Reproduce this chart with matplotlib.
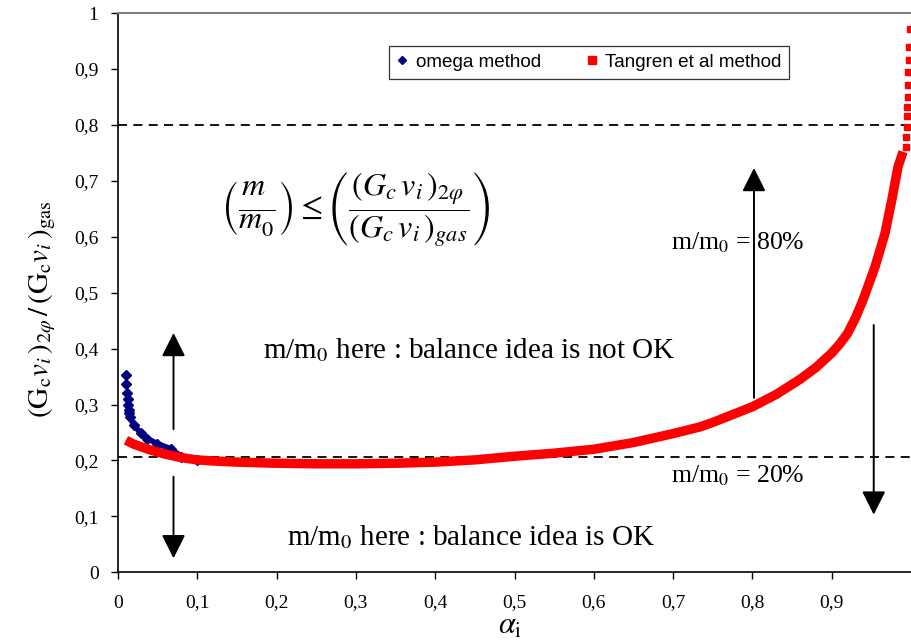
import matplotlib
matplotlib.use("Agg")
import matplotlib.pyplot as plt
from matplotlib.ticker import FuncFormatter
from matplotlib.mathtext import MathTextParser
from matplotlib.font_manager import FontProperties

plt.rcParams['mathtext.fontset'] = 'stix'
plt.rcParams['font.family'] = ['Liberation Serif', 'DejaVu Serif']

# ---- data ----
tangren_alpha = [0.01, 0.02, 0.03, 0.04, 0.05, 0.06, 0.07, 0.08, 0.10, 0.12, 0.15,
                 0.20, 0.25, 0.30, 0.35, 0.40, 0.45, 0.50, 0.55, 0.60, 0.65, 0.70,
                 0.734, 0.75, 0.80, 0.83, 0.86, 0.88, 0.90, 0.91, 0.92, 0.93, 0.9395,
                 0.9546, 0.9672, 0.9757, 0.9836, 0.9900]
tangren_ratio = [0.236, 0.229, 0.224, 0.219, 0.215, 0.211, 0.208, 0.205, 0.201, 0.199, 0.197,
                 0.195, 0.194, 0.194, 0.195, 0.197, 0.201, 0.2075, 0.213, 0.220, 0.232, 0.248,
                 0.260, 0.268, 0.296, 0.318, 0.345, 0.366, 0.392, 0.408, 0.427, 0.455, 0.487,
                 0.546, 0.606, 0.665, 0.725, 0.752]
# sparse points near alpha -> 1 (drawn as separate squares)
tangren_tail_alpha = [0.9933, 0.9941, 0.9946, 0.9949, 0.9953, 0.9958, 0.9962, 0.9966,
                      0.9971, 0.9979, 0.9987]
tangren_tail_ratio = [0.761, 0.779, 0.797, 0.815, 0.832, 0.850, 0.871, 0.895,
                      0.916, 0.940, 0.971]

omega_alpha = [0.0095, 0.0104, 0.0112, 0.0120, 0.0128, 0.0136, 0.0144, 0.0152,
               0.020, 0.0287, 0.037, 0.0496, 0.0665, 0.08, 0.10]
omega_ratio = [0.353, 0.336, 0.321, 0.309, 0.300, 0.291, 0.284, 0.277,
               0.263, 0.249, 0.239, 0.230, 0.221, 0.207, 0.200]

limit_levels = [0.8, 0.207]

xticks = [0, 0.1, 0.2, 0.3, 0.4, 0.5, 0.6, 0.7, 0.8, 0.9]
yticks = [0, 0.1, 0.2, 0.3, 0.4, 0.5, 0.6, 0.7, 0.8, 0.9, 1.0]

# ---- figure ----
fig = plt.figure(figsize=(9.11, 6.43), dpi=100)
ax = fig.add_axes([118/911, (643-572.3)/643, 1 - 118/911, (572.3-13)/643])
ax.set_xlim(0, 1)
ax.set_ylim(0, 1)

# dashed limit lines
for lv in limit_levels:
    ax.axhline(lv, color='black', lw=1.3, ls=(0, (5, 3.5)), zorder=2)

# omega (navy diamonds)
ax.plot(omega_alpha[7:], omega_ratio[7:], color='#000080', lw=4.0, zorder=3,
        solid_capstyle='round')
ax.plot(omega_alpha, omega_ratio, ls='none', marker='D', ms=5,
        color='#000080', mec='#000080', zorder=3)

# Tangren (red squares)
ax.plot(tangren_alpha, tangren_ratio, color='#ff0000', lw=6.8, zorder=4,
        solid_capstyle='butt', solid_joinstyle='round')
ax.plot(tangren_tail_alpha, tangren_tail_ratio, ls='none', marker='s', ms=5.0,
        color='#ff0000', zorder=4)

# legend proxies
h1, = ax.plot([], [], ls='none', marker='D', ms=4, color='#000080', label='omega method')
h2, = ax.plot([], [], ls='none', marker='s', ms=6, color='#ff0000', label='Tangren et al method')
leg = ax.legend(handles=[h1, h2], loc='center', bbox_to_anchor=(0.594, 0.9115),
                ncol=2, frameon=True, fancybox=False, edgecolor='black',
                prop={'family': 'Liberation Sans', 'size': 13.6},
                handlelength=0.6, handletextpad=0.4, columnspacing=2.4,
                borderpad=0.4, borderaxespad=0)
leg.get_frame().set_linewidth(0.9)

# arrows
arrows = [((0.07, 0.256), (0.07, 0.428)),
          ((0.07, 0.171), (0.07, 0.025)),
          ((0.802, 0.312), (0.802, 0.723)),
          ((0.953, 0.442), (0.953, 0.103))]
for start, end in arrows:
    ax.annotate('', xy=end, xytext=start,
                arrowprops=dict(arrowstyle='-|>,head_length=1.0,head_width=0.5',
                                mutation_scale=14.5, lw=1.4, color='black',
                                shrinkA=0, shrinkB=0), zorder=5)

# texts
ax.text(0.443, 0.397, r'm/m$_0$ here : balance idea is not OK', ha='center', va='center',
        fontsize=21)
ax.text(0.445, 0.063, r'm/m$_0$ here : balance idea is OK', ha='center', va='center',
        fontsize=21)
ax.text(0.697, 0.589, r'm/m$_0$ = 80%', ha='left', va='center', fontsize=18.5)
ax.text(0.697, 0.172, r'm/m$_0$ = 20%', ha='left', va='center', fontsize=18.5)

rhs = r'\left(\dfrac{(G_c\,v_i\,)_{2\varphi}}{(G_c\,v_i\,)_{gas}}\right)'
formula_candidates = [
    r'$\left(\dfrac{m^{\,}_{\,}}{m_{0}^{\,}}\right)\leq' + rhs + '$',
    r'$\left(\dfrac{m}{m_0}\right)\leq' + rhs + '$',
]
formula = formula_candidates[-1]
for cand in formula_candidates:
    try:
        MathTextParser('path').parse(cand, 72, FontProperties(size=20))
        formula = cand
        break
    except Exception:
        pass
ax.text(0.299, 0.648, formula, ha='center', va='center', fontsize=23)

# axes styling
for s in ['left', 'bottom']:
    ax.spines[s].set_color('black')
    ax.spines[s].set_linewidth(1.2)
ax.spines['top'].set_color('#808080')
ax.spines['top'].set_linewidth(1.5)
ax.spines['right'].set_visible(False)

comma = FuncFormatter(lambda v, p: ('%g' % v).replace('.', ','))
ax.set_xticks(xticks)
ax.set_yticks(yticks)
ax.xaxis.set_major_formatter(comma)
ax.yaxis.set_major_formatter(comma)
ax.tick_params(direction='out', length=5, width=1, labelsize=14)
ax.tick_params(axis='x', pad=11)
ax.tick_params(axis='y', pad=9)

ax.set_xlabel(r'$\alpha_\mathrm{i}$', fontsize=22)
ax.xaxis.set_label_coords(0.494, -0.071)
ax.set_ylabel(r'$(\mathrm{G_c}\mathit{v_i}\,)_{2\varphi}\,/\,(\mathrm{G_c}\mathit{v_i}\,)_{\mathrm{gas}}$',
              fontsize=21)
ax.yaxis.set_label_coords(-0.076, 0.47)

fig.savefig('out.png', dpi=100)
